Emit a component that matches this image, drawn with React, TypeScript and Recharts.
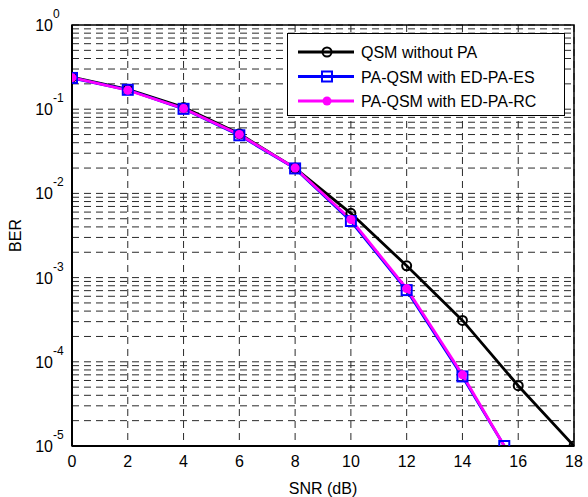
import React from 'react';
import {
  LineChart,
  Line,
  XAxis,
  YAxis,
  CartesianGrid,
  ReferenceArea,
} from 'recharts';

// SNR points (dB)
const snrFull = [0, 2, 4, 6, 8, 10, 12, 14, 16, 18];
const snrPa = [0, 2, 4, 6, 8, 10, 12, 14, 15.5];

// BER values
const berNoPa = [0.24, 0.172, 0.105, 0.051, 0.02, 0.0058, 0.00138, 0.00031, 0.000052, 0.00001];
const berEs = [0.235, 0.17, 0.101, 0.049, 0.0198, 0.0047, 0.00071, 0.000067, 0.00001];
const berRc = [0.237, 0.168, 0.102, 0.05, 0.02, 0.0049, 0.00074, 0.00007, 0.00001];

const xTicks = [0, 2, 4, 6, 8, 10, 12, 14, 16, 18];
const decades = [1e-5, 1e-4, 1e-3, 1e-2, 1e-1, 1];
const minorSteps = [2, 3, 4, 5, 6, 7, 8, 9];

const yTicks: number[] = [];
decades.forEach((d, i) => {
  yTicks.push(d);
  if (i < decades.length - 1) minorSteps.forEach((m) => yTicks.push(d * m));
});

const toRows = (xs: number[], ys: number[]) => xs.map((x, i) => ({ x, y: ys[i] }));
const noPaData = toRows(snrFull, berNoPa);
const esData = toRows(snrPa, berEs);
const rcData = toRows(snrPa, berRc);

const FONT = 'Arial, "Liberation Sans", sans-serif';

const isDecade = (v: number) => {
  const l = Math.log10(v);
  return Math.abs(l - Math.round(l)) < 1e-6;
};

const YTick = ({ y, payload }: any) => {
  if (!isDecade(payload.value)) return null;
  const exp = Math.round(Math.log10(payload.value));
  return (
    <g>
      <text x={53} y={y + 6} textAnchor="end" fontSize={16} fontFamily={FONT} fill="#000">
        10
      </text>
      <text x={53} y={y - 7} textAnchor="start" fontSize={12} fontFamily={FONT} fill="#000">
        {exp}
      </text>
    </g>
  );
};

const YLabel = ({ viewBox }: any) => {
  const cy = viewBox.y + viewBox.height / 2;
  return (
    <text
      x={21}
      y={cy}
      transform={`rotate(-90, 21, ${cy})`}
      textAnchor="middle"
      fontSize={16}
      fontFamily={FONT}
      fill="#000"
    >
      BER
    </text>
  );
};

const SquareDot = ({ cx, cy }: any) => (
  <rect x={cx - 5} y={cy - 5} width={10} height={10} fill="none" stroke="#0000ff" strokeWidth={2} />
);

// markers sitting on the lower axis limit get clipped, like in the original figure
const RcDot = ({ cx, cy, payload }: any) => {
  if (payload.y <= 1e-5) return null;
  return <circle cx={cx} cy={cy} r={4.5} fill="#ff00ff" />;
};

const legendItems = [
  { label: 'QSM without PA', color: '#000000', marker: 'circle' },
  { label: 'PA-QSM with ED-PA-ES', color: '#0000ff', marker: 'square' },
  { label: 'PA-QSM with ED-PA-RC', color: '#ff00ff', marker: 'dot' },
];

const LegendBox = () => (
  <div
    style={{
      position: 'absolute',
      left: 287,
      top: 33,
      width: 276,
      height: 81,
      border: '1px solid #000',
      background: '#fff',
    }}
  >
    <svg width={276} height={81} style={{ display: 'block' }}>
      {legendItems.map((it, i) => {
        const cy = 18 + i * 24.5;
        return (
          <g key={it.label}>
            <line x1={10} x2={66} y1={cy} y2={cy} stroke={it.color} strokeWidth={2.8} />
            {it.marker === 'circle' && (
              <circle cx={39} cy={cy} r={4.5} fill="none" stroke={it.color} strokeWidth={2} />
            )}
            {it.marker === 'square' && (
              <rect x={34} y={cy - 5} width={10} height={10} fill="none" stroke={it.color} strokeWidth={2} />
            )}
            {it.marker === 'dot' && <circle cx={39} cy={cy} r={4.5} fill={it.color} />}
            <text x={73} y={cy + 6} fontSize={16} fontFamily={FONT} fill="#000">
              {it.label}
            </text>
          </g>
        );
      })}
    </svg>
  </div>
);

export default function App() {
  return (
    <div style={{ position: 'absolute', left: 0, top: 0, width: 588, height: 497, background: '#fff' }}>
      <LineChart
        width={588}
        height={497}
        margin={{ top: 25, right: 14, left: 0, bottom: 21 }}
      >
        <CartesianGrid stroke="#2a2a2a" strokeDasharray="7 5" strokeWidth={1} />
        <XAxis
          type="number"
          dataKey="x"
          domain={[0, 18]}
          ticks={xTicks}
          allowDataOverflow
          height={30}
          tickLine={false}
          axisLine={{ stroke: '#000', strokeWidth: 2 }}
          tick={{ fontSize: 16, fontFamily: FONT, fill: '#000' }}
          tickMargin={4}
          label={{ value: 'SNR (dB)', position: 'insideBottom', offset: -18, fontSize: 16, fontFamily: FONT, fill: '#000' }}
        />
        <YAxis
          type="number"
          scale="log"
          domain={[1e-5, 1]}
          ticks={yTicks}
          allowDataOverflow
          width={72}
          interval={0}
          tickLine={false}
          axisLine={{ stroke: '#000', strokeWidth: 2 }}
          tick={<YTick />}
          label={<YLabel />}
        />
        <ReferenceArea x1={0} x2={18} y1={1e-5} y2={1} fill="none" stroke="#000" strokeWidth={1.5} ifOverflow="visible" />
        <Line
          data={noPaData}
          dataKey="y"
          name="QSM without PA"
          stroke="#000"
          strokeWidth={2.8}
          dot={{ r: 4.5, fill: 'none', stroke: '#000', strokeWidth: 2 }}
          isAnimationActive={false}
        />
        <Line
          data={esData}
          dataKey="y"
          name="PA-QSM with ED-PA-ES"
          stroke="#0000ff"
          strokeWidth={2.8}
          dot={<SquareDot />}
          isAnimationActive={false}
        />
        <Line
          data={rcData}
          dataKey="y"
          name="PA-QSM with ED-PA-RC"
          stroke="#ff00ff"
          strokeWidth={2.8}
          dot={<RcDot />}
          isAnimationActive={false}
        />
      </LineChart>
      <LegendBox />
    </div>
  );
}
